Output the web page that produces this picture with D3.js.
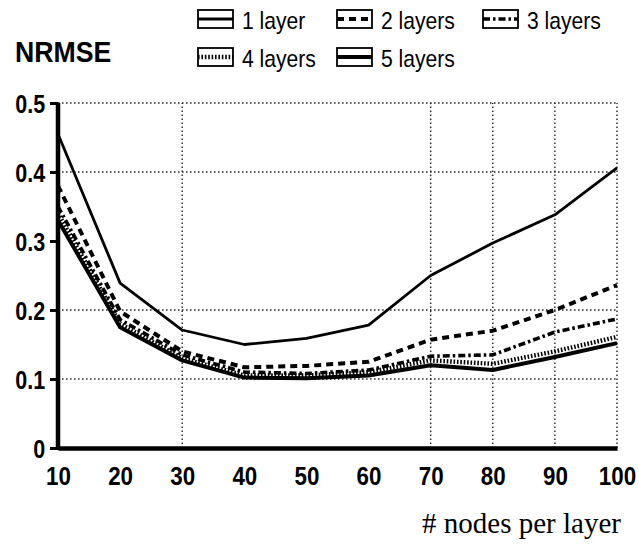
<!DOCTYPE html>
<html>
<head>
<meta charset="utf-8">
<script src="https://cdn.jsdelivr.net/npm/d3@7"></script>
<style>
  body { margin: 0; background: #fff; }
  svg { display: block; }
</style>
</head>
<body>
<div class="chart"></div>
<script>
// values
var nodes = [10, 20, 30, 40, 50, 60, 70, 80, 90, 100];
var layer1 = [0.455, 0.239, 0.171, 0.150, 0.159, 0.178, 0.250, 0.297, 0.338, 0.406];
var layer2 = [0.380, 0.198, 0.140, 0.117, 0.119, 0.125, 0.157, 0.170, 0.200, 0.236];
var layer3 = [0.350, 0.186, 0.135, 0.110, 0.108, 0.113, 0.133, 0.135, 0.168, 0.187];
var layer4 = [0.340, 0.180, 0.130, 0.105, 0.105, 0.110, 0.127, 0.122, 0.140, 0.161];
var layer5 = [0.330, 0.175, 0.127, 0.102, 0.101, 0.105, 0.120, 0.113, 0.132, 0.152];
var seriesNames = ["1 layer", "2 layers", "3 layers", "4 layers", "5 layers"];
var yTicks = [0, 0.1, 0.2, 0.3, 0.4, 0.5];

var series = [layer1, layer2, layer3, layer4, layer5];
var styles = [
  {w: 2.8, dash: null},
  {w: 4, dash: "7,5"},
  {w: 3.6, dash: "7,3,2.5,3"},
  {w: 4.4, dash: "1.6,1.8"},
  {w: 4, dash: null}
];

var width = 639, height = 546;
var x = d3.scaleLinear().domain([10, 100]).range([58, 617]);
var y = d3.scaleLinear().domain([0, 0.5]).range([448, 103]);

var svg = d3.select(".chart").append("svg")
    .attr("width", width)
    .attr("height", height);

// dotted grid (only the parts visible in the scan)
var grid = svg.append("g")
    .attr("stroke", "#222")
    .attr("stroke-width", 1.4)
    .attr("stroke-dasharray", "1.5,2.5");
grid.selectAll("line.h")
    .data([0.1, 0.2, 0.4, 0.5])
  .enter().append("line")
    .attr("x1", x(10)).attr("x2", x(100))
    .attr("y1", function(d) { return y(d); })
    .attr("y2", function(d) { return y(d); });
grid.selectAll("line.v")
    .data([30, 70, 80, 90, 100])
  .enter().append("line")
    .attr("x1", function(d) { return x(d); })
    .attr("x2", function(d) { return x(d); })
    .attr("y1", y(0)).attr("y2", y(0.5));

// curves
var line = d3.line()
    .x(function(d, i) { return x(nodes[i]); })
    .y(function(d) { return y(d); });

svg.selectAll("path.curve")
    .data(series)
  .enter().append("path")
    .attr("class", "curve")
    .attr("fill", "none")
    .attr("stroke", "#000")
    .attr("stroke-linejoin", "round")
    .attr("stroke-width", function(d, i) { return styles[i].w; })
    .attr("stroke-dasharray", function(d, i) { return styles[i].dash; })
    .attr("d", line);

var sans = "Liberation Sans, Arial, sans-serif";

// axes
var yAxis = svg.append("g")
    .attr("transform", "translate(" + x(10) + ",0)")
    .call(d3.axisLeft(y).tickValues(yTicks).tickSize(8).tickFormat(function(d) { return d === 0 ? "0" : d3.format(".1f")(d); }));
yAxis.select(".domain").attr("stroke-width", 4.5).attr("d", "M0," + y(0.5) + "V" + (y(0) + 2));
yAxis.selectAll(".tick line").attr("stroke-width", 3);
yAxis.selectAll(".tick text")
    .attr("x", -15)
    .attr("dy", "0.36em")
    .attr("transform", "scale(0.86,1)")
    .attr("font-family", sans)
    .attr("font-weight", "bold")
    .attr("font-size", 25)
    .attr("fill", "#000");

var xAxis = svg.append("g")
    .attr("transform", "translate(0," + y(0) + ")")
    .call(d3.axisBottom(x).tickValues(nodes).tickSize(0));
xAxis.select(".domain").attr("stroke-width", 4.5);
xAxis.selectAll(".tick text")
    .attr("dy", 0)
    .attr("y", 37)
    .attr("transform", "scale(0.86,1)")
    .attr("font-family", sans)
    .attr("font-weight", "bold")
    .attr("font-size", 26)
    .attr("fill", "#000");

// titles
svg.append("text")
    .attr("transform", "translate(15,62) scale(0.92,1)")
    .attr("font-family", sans)
    .attr("font-weight", "bold")
    .attr("font-size", 29)
    .text("NRMSE");

svg.append("text")
    .attr("x", 621).attr("y", 533)
    .attr("text-anchor", "end")
    .attr("font-family", "Liberation Serif, Times New Roman, serif")
    .attr("font-size", 29)
    .text("# nodes per layer");

// legend
var legendPos = [[198, 10], [337, 10], [483, 10], [198, 48], [337, 48]];
var legend = svg.selectAll("g.legend")
    .data(seriesNames)
  .enter().append("g")
    .attr("class", "legend")
    .attr("transform", function(d, i) { return "translate(" + legendPos[i][0] + "," + legendPos[i][1] + ")"; });
legend.append("rect")
    .attr("width", 35).attr("height", 18)
    .attr("fill", "#fff").attr("stroke", "#000").attr("stroke-width", 1.8);
legend.append("line")
    .attr("x1", 0).attr("x2", 35).attr("y1", 9).attr("y2", 9)
    .attr("stroke", "#000")
    .attr("stroke-width", function(d, i) { return styles[i].w; })
    .attr("stroke-dasharray", function(d, i) { return styles[i].dash; });
legend.append("text")
    .attr("transform", "translate(44,19) scale(0.88,1)")
    .attr("font-family", sans)
    .attr("font-size", 24)
    .text(function(d) { return d; });
</script>
</body>
</html>
